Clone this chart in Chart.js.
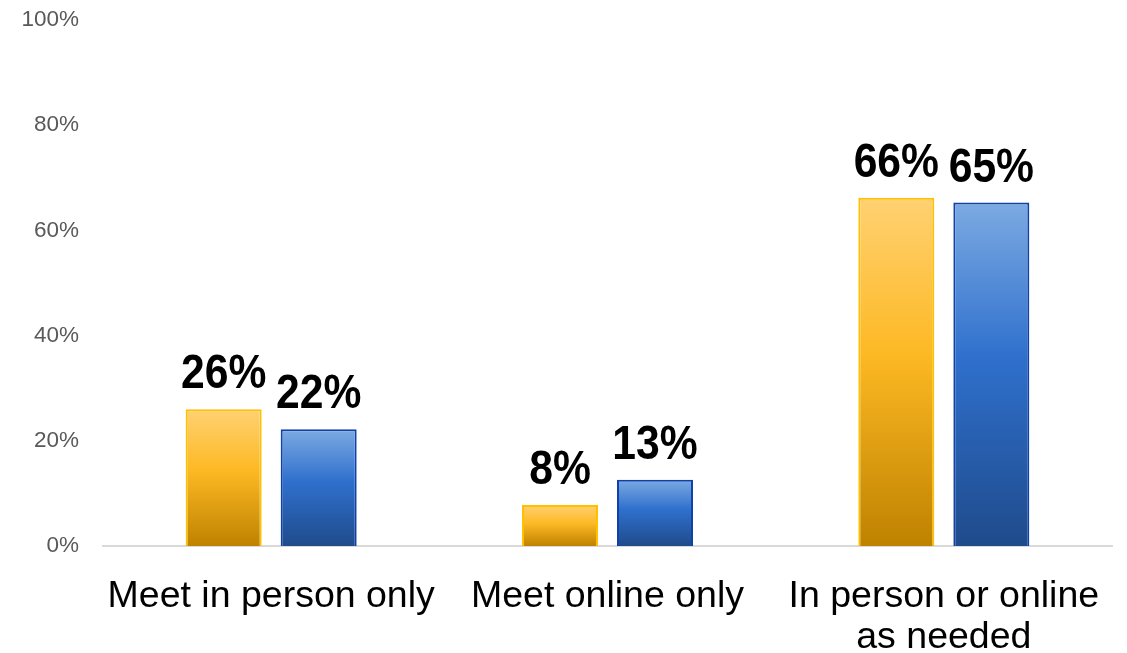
<!DOCTYPE html>
<html>
<head>
<meta charset="utf-8">
<script src="https://cdn.jsdelivr.net/npm/chart.js@4/dist/chart.umd.min.js"></script>
<style>
  html, body { margin: 0; padding: 0; background: #fff; }
  #wrap { width: 1127px; height: 653px; }
</style>
</head>
<body>
<div id="wrap"><canvas id="chart" width="1127" height="653"></canvas></div>
<script>
// values (percent)
var categories = ['Meet in person only', 'Meet online only', ['In person or online', 'as needed']];
var goldValues = [26, 7.8, 66.2];
var blueValues = [22.2, 12.6, 65.3];
var goldLabels = ['26%', '8%', '66%'];
var blueLabels = ['22%', '13%', '65%'];
var yTicks = [0, 20, 40, 60, 80, 100];

function barGradient(stops, fallback) {
  return function (ctx) {
    var chart = ctx.chart;
    if (!chart.chartArea || !chart.scales.y) return fallback;
    var y = chart.scales.y;
    var top = y.getPixelForValue(ctx.raw);
    var base = y.getPixelForValue(0);
    if (!isFinite(top) || top === base) return fallback;
    var g = chart.ctx.createLinearGradient(0, top, 0, base);
    stops.forEach(function (s) { g.addColorStop(s[0], s[1]); });
    return g;
  };
}

var goldStops = [[0, '#ffd172'], [0.45, '#fdb924'], [1, '#bf8200']];
var blueStops = [[0, '#7caae2'], [0.45, '#2f70cd'], [1, '#1f4b8b']];

// bold value labels above each bar (font squeezed a bit to match the narrow original)
var valueLabels = {
  id: 'valueLabels',
  afterDatasetsDraw: function (chart) {
    var ctx = chart.ctx;
    var lists = [goldLabels, blueLabels];
    var squeeze = 0.87;
    ctx.save();
    ctx.font = 'bold 49px "Liberation Sans"';
    ctx.fillStyle = '#000';
    ctx.textAlign = 'center';
    ctx.textBaseline = 'alphabetic';
    chart.data.datasets.forEach(function (ds, i) {
      chart.getDatasetMeta(i).data.forEach(function (el, j) {
        ctx.save();
        ctx.translate(el.x, el.y - 21);
        ctx.scale(squeeze, 1);
        ctx.fillText(lists[i][j], 0, 0);
        ctx.restore();
      });
    });
    ctx.restore();
  }
};

new Chart(document.getElementById('chart'), {
  type: 'bar',
  data: {
    labels: categories,
    datasets: [{
      label: 'Gold',
      data: goldValues,
      backgroundColor: barGradient(goldStops, '#fdb924'),
      borderColor: '#ffc000',
      borderWidth: 2,
      categoryPercentage: 0.565,
      barPercentage: 0.8
    }, {
      label: 'Blue',
      data: blueValues,
      backgroundColor: barGradient(blueStops, '#2f70cd'),
      borderColor: '#0f42a8',
      borderWidth: 2,
      categoryPercentage: 0.565,
      barPercentage: 0.8
    }]
  },
  options: {
    responsive: false,
    animation: false,
    layout: { padding: { top: 20, right: 15, bottom: 0, left: 0 } },
    plugins: { legend: { display: false }, tooltip: { enabled: false } },
    scales: {
      x: {
        grid: { display: false },
        border: { display: true, color: '#d9d9d9', width: 2 },
        ticks: {
          color: '#000',
          font: { family: '"Liberation Sans"', size: 37.5, lineHeight: 1.1 },
          padding: 22,
          maxRotation: 0,
          autoSkip: false
        },
        afterFit: function (s) { s.height = 107; }
      },
      y: {
        min: 0,
        max: 100,
        afterBuildTicks: function (s) { s.ticks = yTicks.map(function (v) { return { value: v }; }); },
        grid: { display: false, drawTicks: false },
        border: { display: false },
        ticks: {
          color: '#595959',
          font: { family: '"Liberation Sans"', size: 22.5 },
          padding: 24,
          callback: function (v) { return v + '%'; }
        },
        afterFit: function (s) {
          s.width = 103;
          s.paddingTop = 0;
          s.paddingBottom = 0;
        }
      }
    }
  },
  plugins: [valueLabels]
});
</script>
</body>
</html>
